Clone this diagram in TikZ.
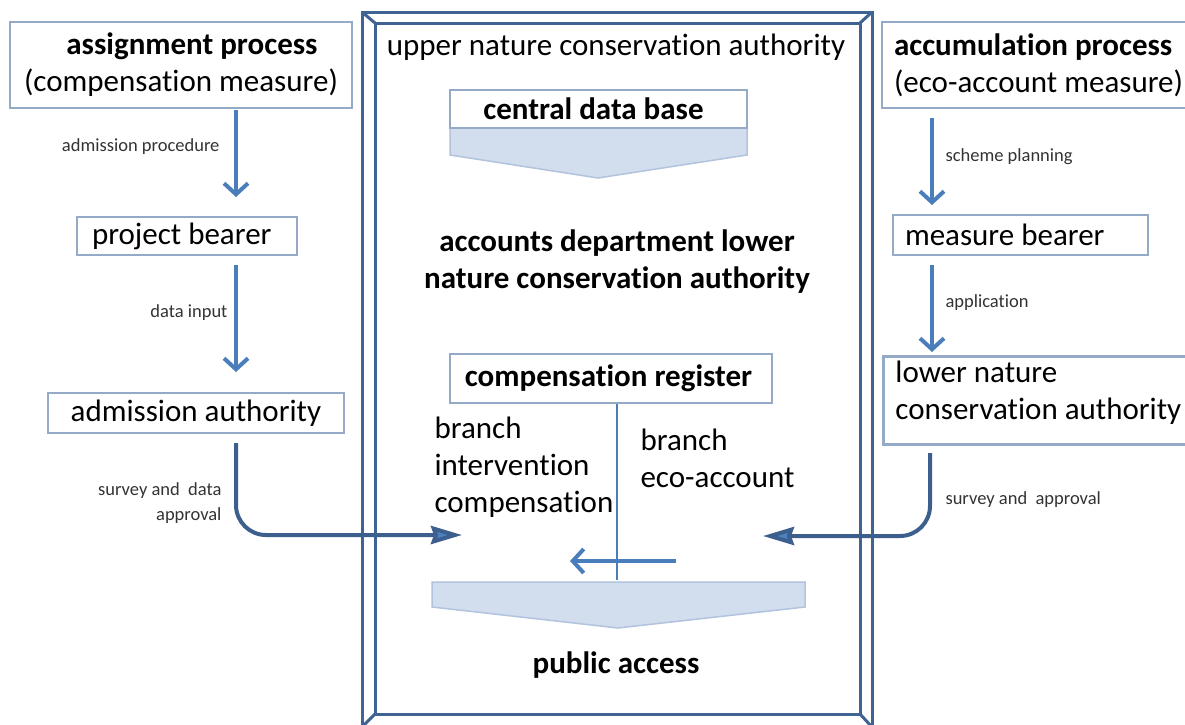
\documentclass[tikz,border=0pt]{standalone}
\usepackage{fontspec}
\setmainfont{Carlito}[Ligatures=NoCommon]
\usetikzlibrary{arrows.meta}

\definecolor{frameblue}{HTML}{3F6494}
\definecolor{boxgray}{HTML}{95AAC6}
\definecolor{arrowblue}{HTML}{4A7EBB}
\definecolor{darkarrow}{HTML}{3C5F8E}
\definecolor{headfill}{HTML}{4F80BF}
\definecolor{chevfill}{HTML}{D2DDEE}
\definecolor{chevline}{HTML}{B2C4DD}

\begin{document}
\begin{tikzpicture}[x=1pt,y=-1pt,
  big/.style={font=\fontsize{31}{37}\selectfont},
  bigbold/.style={font=\fontsize{31}{37}\selectfont\bfseries},
  small/.style={font=\fontsize{18.5}{25}\selectfont, text=black!80},
  procbox/.style={draw=boxgray, line width=2.8, fill=white, inner sep=0pt, big},
  frameline/.style={draw=frameblue, line width=3},
  chevron/.style={draw=chevline, line width=1.5, fill=chevfill},
  varrow/.style={draw=arrowblue, line width=4, -{Straight Barb[length=11,width=24]}},
  carrow/.style={draw=darkarrow, line width=4, rounded corners=30,
    -{Stealth[length=31,width=18,inset=3,fill=headfill]}},
  hline/.style={draw=arrowblue, line width=1.2}]

\clip (0,0) rectangle (1185,724);
\fill[white] (0,0) rectangle (1185,724);

% central frame with bevelled corners
\draw[frameline] (362,12) rectangle (872,727);
\draw[frameline] (375,23) rectangle (860,714);
\draw[frameline] (362,12) -- (375,23);
\draw[frameline] (872,12) -- (860,23);
\draw[frameline] (362,727) -- (375,714);
\draw[frameline] (872,727) -- (860,714);

% left column
\node[procbox, minimum width=342, minimum height=86, align=center] (b1) at (181,65)
  {\hspace*{22pt}{\bfseries assignment process}\\(compensation measure)};
\node[procbox, minimum width=220, minimum height=38, inner xsep=15, text width=190, align=flush left] (b2) at (187,236) {project bearer};
\node[procbox, minimum width=296, minimum height=40] (b3) at (196,413) {admission authority};

% right column
\node[procbox, minimum width=318, minimum height=86, inner xsep=12, text width=294, align=flush left] (r1) at (1041,65)
  {{\bfseries accumulation process}\\(eco-account measure)};
\node[procbox, minimum width=255, minimum height=40, inner xsep=12, text width=231, align=flush left] (r2) at (1020.5,235) {measure bearer};
\node[procbox, minimum width=318, minimum height=88, inner xsep=12, text width=294, align=flush left, anchor=north west] (r3) at (882,355)
  {lower nature\\conservation authority\\[-16pt]\mbox{}};

% centre
\node[big] (upper) at (616,47) {upper nature conservation authority};
\draw[chevron] (450,128) -- (747,128) -- (747,155) -- (598,178) -- (450,155) -- cycle;
\node[procbox, minimum width=297, minimum height=38, bigbold] (cdb) at (598.5,109) {\hspace*{-10pt}central data base};
\node[bigbold, align=center] (acc) at (617,262)
  {accounts department lower\\nature conservation authority};
\node[procbox, minimum width=322, minimum height=49, bigbold] (reg) at (611,378.5) {\hspace*{-5pt}compensation register};
\coordinate (regfoot) at (617,580);
\draw[hline] (reg.south -| regfoot) -- (regfoot);
\node[big, align=flush left, anchor=west] (brl) at (431,467) {branch\\intervention\\compensation};
\node[big, align=flush left, anchor=west] (brr) at (637,458.5) {branch\\eco-account};
\coordinate (mvs) at (676,561);
\coordinate (mve) at (570,561);
\draw[varrow] (mvs) -- (mve);
\draw[chevron] (432,582) -- (805,582) -- (805,607) -- (618,628) -- (432,607) -- cycle;
\node[bigbold] (pub) at (616,665) {public access};

% left arrows
\draw[varrow, shorten <=1] (236,0 |- b1.south) -- (236,197);
\node[small, anchor=east] (l1) at (223,147) {admission procedure};
\draw[varrow] (236,265) -- (236,372);
\node[small, anchor=east] (l2) at (231,313) {data input};
\coordinate (c3s) at (236,443);
\coordinate (c3e) at (462,535);
\draw[carrow] (c3s) |- (c3e);
\node[small, align=flush right, anchor=east] (l3) at (225,503.5) {survey and \ data\\approval};

% right arrows
\draw[varrow] (932,118) -- (932,205);
\node[small, anchor=west] (l4) at (942,157) {scheme planning};
\draw[varrow] (932,265) -- (932,352);
\node[small, anchor=west] (l5) at (942,303) {application};
\coordinate (c6s) at (930,453);
\coordinate (c6e) at (763,536);
\draw[carrow] (c6s) |- (c6e);
\node[small, anchor=west] (l6) at (942,500) {survey and \ approval};
\end{tikzpicture}
\end{document}
